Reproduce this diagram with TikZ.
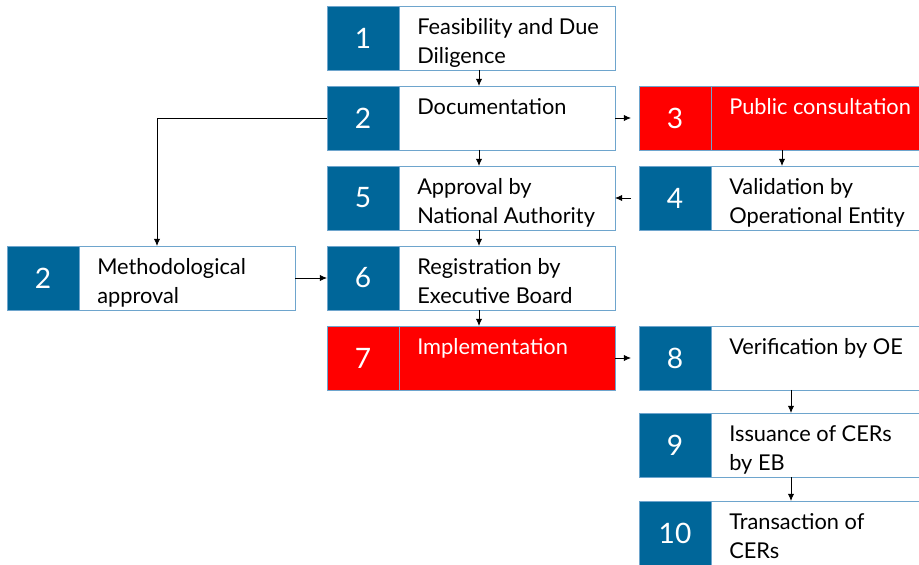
\documentclass[tikz,border=0pt]{standalone}
\usepackage{fontspec}
\setmainfont{Lato}
\usetikzlibrary{positioning,calc,arrows.meta}
\definecolor{stepblue}{RGB}{0,102,153}
\definecolor{stepred}{RGB}{255,0,0}
\definecolor{stepline}{RGB}{110,165,205}
\tikzset{
  num/.style={rectangle, fill=stepblue, draw=stepline, text=white,
    minimum width=1.8cm, minimum height=1.6cm, inner sep=0pt, outer sep=0pt,
    font=\fontsize{20}{22}\selectfont},
  txt/.style={rectangle, fill=white, draw=stepline,
    minimum width=5.4cm, minimum height=1.6cm, inner sep=0pt, outer sep=0pt},
  hot/.style={fill=stepred},
  lbl/.style={anchor=north west, align=left, inner sep=0pt,
    font=\fontsize{15.5}{21}\selectfont},
  flow/.style={-{Latex[length=1.8mm,width=1.6mm]}, line width=0.6pt, black}
}
\begin{document}
\begin{tikzpicture}
   \path[use as bounding box, clip] (0,0) rectangle (22.975,-14.125);

   % main column
   \node[num]                    (n1) at (9.075,-0.95) {1};
   \node[txt, right=0cm of n1]   (t1) {};
   \node[num, below=0.4cm of n1] (n2) {2};
   \node[txt, right=0cm of n2]   (t2) {};
   \node[num, below=0.4cm of n2] (n5) {5};
   \node[txt, right=0cm of n5]   (t5) {};
   \node[num, below=0.4cm of n5] (n6) {6};
   \node[txt, right=0cm of n6]   (t6) {};
   \node[num, hot, below=0.4cm of n6] (n7) {7};
   \node[txt, hot, right=0cm of n7]   (t7) {};

   % right column
   \node[num, hot, right=0.6cm of t2] (n3) {3};
   \node[txt, hot, right=0cm of n3]   (t3) {};
   \node[num, below=0.4cm of n3]      (n4) {4};
   \node[txt, right=0cm of n4]        (t4) {};
   \node[num, right=0.6cm of t7]      (n8) {8};
   \node[txt, right=0cm of n8]        (t8) {};
   \node[num, below=0.575cm of n8]    (n9) {9};
   \node[txt, right=0cm of n9]        (t9) {};
   \node[num, below=0.6cm of n9]      (n10) {10};
   \node[txt, right=0cm of n10]       (t10) {};

   % methodology
   \node[txt, left=0.8cm of n6] (tm) {};
   \node[num, left=0cm of tm]   (nm) {2};

   % texts
   \node[lbl] (l1) at ([shift={(0.45cm,-0.3cm)}]t1.north west) {Feasibility and Due\\Diligence};
   \node[lbl] (l2) at ([shift={(0.45cm,-0.3cm)}]t2.north west) {Documentation};
   \node[lbl, text=white] (l3) at ([shift={(0.45cm,-0.3cm)}]t3.north west) {Public consultation};
   \node[lbl] (l4) at ([shift={(0.45cm,-0.3cm)}]t4.north west) {Validation by\\Operational Entity};
   \node[lbl] (l5) at ([shift={(0.45cm,-0.3cm)}]t5.north west) {Approval by\\National Authority};
   \node[lbl] (l6) at ([shift={(0.45cm,-0.3cm)}]t6.north west) {Registration by\\Executive Board};
   \node[lbl, text=white] (l7) at ([shift={(0.45cm,-0.3cm)}]t7.north west) {Implementation};
   \node[lbl] (l8) at ([shift={(0.45cm,-0.3cm)}]t8.north west) {Verification by OE};
   \node[lbl] (l9) at ([shift={(0.45cm,-0.3cm)}]t9.north west) {Issuance of CERs\\by EB};
   \node[lbl] (l10) at ([shift={(0.45cm,-0.3cm)}]t10.north west) {Transaction of\\CERs};
   \node[lbl] (lm) at ([shift={(0.45cm,-0.3cm)}]tm.north west) {Methodological\\approval};

   % flow
   \draw[flow] ([xshift=-0.7cm]t1.south) -- ([xshift=-0.7cm]t2.north);
   \draw[flow] ([xshift=-0.7cm]t2.south) -- ([xshift=-0.7cm]t5.north);
   \draw[flow] ([xshift=-0.7cm]t5.south) -- ([xshift=-0.7cm]t6.north);
   \draw[flow] ([xshift=-0.7cm]t6.south) -- ([xshift=-0.7cm]t7.north);
   \draw[flow, shorten >=0.2cm] (t2.east) -- (n3.west);
   \draw[flow] ([xshift=-0.925cm]t3.south) -- ([xshift=-0.925cm]t4.north);
   \draw[flow, shorten <=0.2cm] (n4.west) -- (t5.east);
   \draw[flow] (n2.west) -| ([xshift=-0.75cm]tm.north);
   \draw[flow] (tm.east) -- (n6.west);
   \draw[flow, shorten >=0.2cm] (t7.east) -- (n8.west);
   \draw[flow] ([xshift=-0.7cm]t8.south) -- ([xshift=-0.7cm]t9.north);
   \draw[flow] ([xshift=-0.7cm]t9.south) -- ([xshift=-0.7cm]t10.north);
\end{tikzpicture}
\end{document}
